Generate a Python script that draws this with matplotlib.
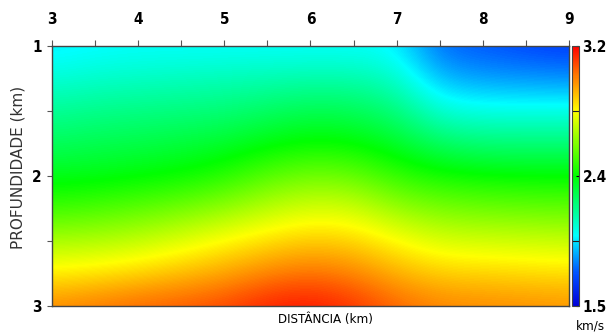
import matplotlib
matplotlib.use("Agg")
import matplotlib.pyplot as plt
import numpy as np
from matplotlib.colors import LinearSegmentedColormap
from matplotlib.font_manager import FontProperties
from matplotlib.ticker import MultipleLocator, FixedLocator

# distance (km) and depth (km) of the sampled velocity grid (regular spacing)
dist_km = [3.0, 3.5, 4.0, 4.5, 5.0, 5.5, 6.0, 6.5, 7.0, 7.5, 8.0, 8.5, 9.0]
depth_km = [1.0, 1.25, 1.5, 1.75, 2.0, 2.25, 2.5, 2.75, 3.0]

# velocity (km/s), one list per distance column, top to bottom
vel_x30 = [1.93, 2.02, 2.12, 2.21, 2.31, 2.45, 2.63, 2.80, 2.98]
vel_x35 = [1.95, 2.04, 2.14, 2.23, 2.32, 2.47, 2.64, 2.82, 3.01]
vel_x40 = [1.96, 2.05, 2.15, 2.24, 2.34, 2.50, 2.67, 2.85, 3.04]
vel_x45 = [1.96, 2.06, 2.16, 2.26, 2.36, 2.54, 2.72, 2.89, 3.06]
vel_x50 = [1.96, 2.07, 2.17, 2.28, 2.41, 2.59, 2.78, 2.93, 3.09]
vel_x55 = [1.96, 2.08, 2.20, 2.33, 2.49, 2.66, 2.83, 2.99, 3.15]
vel_x60 = [1.96, 2.09, 2.23, 2.36, 2.54, 2.71, 2.87, 3.02, 3.17]
vel_x65 = [1.96, 2.09, 2.22, 2.35, 2.52, 2.70, 2.85, 2.99, 3.12]
vel_x70 = [1.95, 2.05, 2.17, 2.29, 2.43, 2.60, 2.78, 2.91, 3.04]
vel_x75 = [1.74, 1.86, 2.02, 2.20, 2.38, 2.55, 2.71, 2.86, 2.99]
vel_x80 = [1.72, 1.82, 2.00, 2.17, 2.36, 2.53, 2.70, 2.85, 2.98]
vel_x85 = [1.69, 1.81, 2.00, 2.17, 2.35, 2.52, 2.69, 2.84, 2.97]
vel_x90 = [1.67, 1.80, 2.00, 2.17, 2.35, 2.51, 2.68, 2.83, 2.96]

vmin, vmax = 1.5, 3.2
cbar_ticks = [1.5, 2.35, 3.2]
cbar_labels = ["1.5", "2.4", "3.2"]

columns = [vel_x30, vel_x35, vel_x40, vel_x45, vel_x50, vel_x55, vel_x60,
           vel_x65, vel_x70, vel_x75, vel_x80, vel_x85, vel_x90]
vel = np.array(columns).T

cmap = LinearSegmentedColormap.from_list("vel", [
    (0.0, (0.0, 0.0, 0.85)),
    (0.12, (0.0, 0.3, 1.0)),
    (0.27, (0.0, 1.0, 1.0)),
    (0.5, (0.0, 1.0, 0.0)),
    (0.75, (1.0, 1.0, 0.0)),
    (0.88, (1.0, 0.5, 0.0)),
    (1.0, (1.0, 0.0, 0.0)),
])

bold = FontProperties(family="DejaVu Sans", weight="bold", stretch="condensed", size=11)

fig = plt.figure(figsize=(6.08, 3.34), dpi=100)
ax = fig.add_axes([0.0855, 0.0838, 0.8503, 0.7784])
cax = fig.add_axes([0.9408, 0.0838, 0.0115, 0.7784])

dx = dist_km[1] - dist_km[0]
dz = depth_km[1] - depth_km[0]
extent = [dist_km[0] - dx / 2, dist_km[-1] + dx / 2,
          depth_km[-1] + dz / 2, depth_km[0] - dz / 2]
img = ax.imshow(vel, cmap=cmap, vmin=vmin, vmax=vmax, extent=extent,
                aspect="auto", interpolation="bicubic")

ax.set_xlim(3, 9)
ax.set_ylim(3, 1)
ax.xaxis.set_ticks_position("top")
ax.xaxis.set_major_locator(MultipleLocator(1))
ax.xaxis.set_minor_locator(MultipleLocator(0.5))
ax.yaxis.set_major_locator(MultipleLocator(1))
ax.yaxis.set_minor_locator(MultipleLocator(0.5))
ax.tick_params(axis="x", which="both", direction="out", length=4.3, width=0.8,
               color="#555555", pad=9.5)
ax.tick_params(axis="y", which="both", direction="out", length=3.6, width=0.8,
               color="#555555", pad=3.6)
for lab in ax.get_xticklabels() + ax.get_yticklabels():
    lab.set_fontproperties(bold)
for sp in ax.spines.values():
    sp.set_color("#444444")
    sp.set_linewidth(1.0)

fig.text(0.535, 0.042, "DISTÂNCIA (km)", ha="center", va="center",
         family="DejaVu Sans", stretch="condensed", size=9.5)
fig.text(0.030, 0.50, "PROFUNDIDADE (km)", ha="center", va="center",
         rotation=90, family="DejaVu Sans", size=11, color="#333333")

cb = fig.colorbar(img, cax=cax)
cb.outline.set_edgecolor("#444444")
cb.outline.set_linewidth(0.8)
cb.set_ticks(cbar_ticks)
cb.set_ticklabels(cbar_labels)
cax.yaxis.set_minor_locator(FixedLocator([1.925, 2.775]))
cax.tick_params(which="major", direction="in", length=2, width=0.8, pad=2.5)
cax.tick_params(which="minor", direction="in", length=5, width=0.8, color="#222222")
for lab in cax.get_yticklabels():
    lab.set_fontproperties(bold)
fig.text(0.971, 0.023, "km/s", ha="center", va="center",
         family="DejaVu Sans", stretch="condensed", size=9.5)

fig.savefig("out.png", dpi=100)
